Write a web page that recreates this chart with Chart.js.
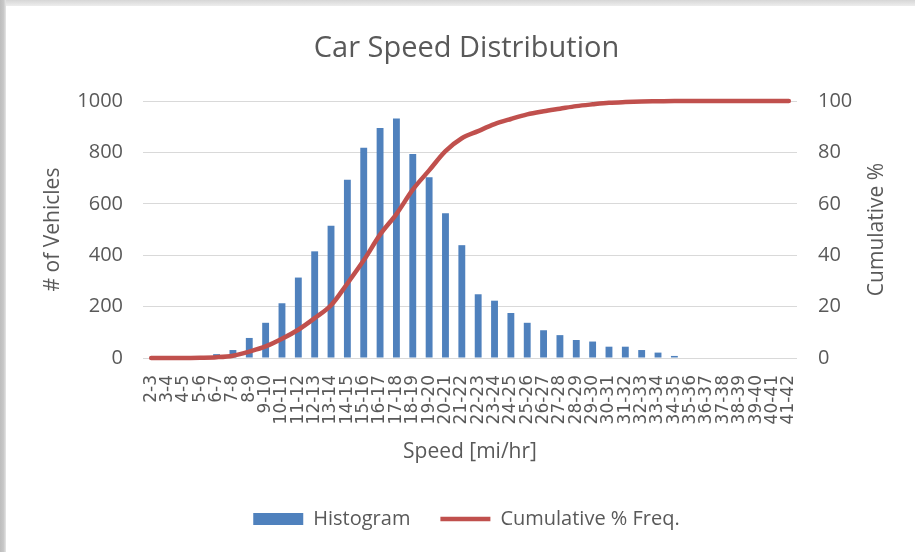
<!DOCTYPE html>
<html>
<head>
<meta charset="utf-8">
<script src="https://cdn.jsdelivr.net/npm/chart.js@4/dist/chart.umd.min.js"></script>
<style>
  body { margin: 0; background: #fff; }
  #wrap { position: absolute; left: 0; top: 0; width: 915px; height: 552px; }
  #edge-top { position: absolute; left: 0; top: 0; width: 915px; height: 6px; background: linear-gradient(#d6d6d6, #ededed); }
  #edge-left { position: absolute; left: 0; top: 0; width: 6px; height: 552px; background: linear-gradient(to right, #bdbdbd, #c8c8c8 60%, #e6e6e6); }
  canvas { position: absolute; left: 0; top: 0; }
</style>
</head>
<body>
<div id="wrap">
  <div id="edge-top"></div>
  <div id="edge-left"></div>
  <canvas id="chart-speed" width="915" height="552"></canvas>
</div>
<script>
var speed_bins = ['2-3','3-4','4-5','5-6','6-7','7-8','8-9','9-10','10-11','11-12',
  '12-13','13-14','14-15','15-16','16-17','17-18','18-19','19-20','20-21','21-22',
  '22-23','23-24','24-25','25-26','26-27','27-28','28-29','29-30','30-31','31-32',
  '32-33','33-34','34-35','35-36','36-37','37-38','38-39','39-40','40-41','41-42'];

// number of vehicles in each bin
var vehicles = [0, 0, 0, 2, 15, 31, 78, 137, 213, 313,
  415, 515, 694, 818, 895, 932, 794, 703, 563, 439,
  248, 223, 175, 137, 108, 89, 70, 64, 44, 44,
  31, 21, 8, 0, 0, 0, 0, 0, 0, 0];

// cumulative % frequency
var cumulative = [0, 0, 0, 0.1, 0.3, 0.9, 2.5, 4.5, 7.5, 11,
  15.5, 20.5, 29, 38, 48, 56, 65.5, 73, 80.5, 85.5,
  88.3, 91, 93, 94.8, 96, 97, 98, 98.7, 99.3, 99.6,
  99.8, 99.9, 100, 100, 100, 100, 100, 100, 100, 100];

var left_ticks = [0, 200, 400, 600, 800, 1000];
var right_ticks = [0, 20, 40, 60, 80, 100];
var right_title = 'Cumulative %';

var grey_text = '#595959';
var tick_font = { family: 'Open Sans', size: 20 };
var axis_title_font = { family: 'Open Sans', size: 21 };

// right axis title reads bottom to top like the left one
var rightTitlePlugin = {
  id: 'rightTitle',
  afterDraw: function (chart) {
    var c = chart.ctx;
    var area = chart.chartArea;
    c.save();
    c.translate(877, (area.top + area.bottom) / 2);
    c.rotate(-Math.PI / 2);
    c.textAlign = 'center';
    c.textBaseline = 'middle';
    c.fillStyle = grey_text;
    c.font = axis_title_font.size + 'px "' + axis_title_font.family + '"';
    c.fillText(right_title, 0, 0);
    c.restore();
  }
};

var ctx = document.getElementById('chart-speed').getContext('2d');
new Chart(ctx, {
  type: 'bar',
  data: {
    labels: speed_bins,
    datasets: [{
      type: 'bar',
      label: 'Histogram',
      data: vehicles,
      yAxisID: 'y',
      backgroundColor: '#4f81bd',
      borderWidth: 0,
      barPercentage: 0.42,
      categoryPercentage: 1,
      pointStyle: 'rect',
      order: 1
    }, {
      type: 'line',
      label: 'Cumulative % Freq.',
      data: cumulative,
      yAxisID: 'y1',
      borderColor: '#c0504d',
      backgroundColor: '#c0504d',
      borderWidth: 4.5,
      borderCapStyle: 'round',
      pointRadius: 0,
      pointStyle: 'line',
      cubicInterpolationMode: 'monotone',
      fill: false,
      clip: false,
      order: 0
    }]
  },
  plugins: [rightTitlePlugin],
  options: {
    responsive: false,
    animation: false,
    layout: { padding: { left: 18, right: 0, top: 0, bottom: 13 } },
    plugins: {
      tooltip: { enabled: false },
      title: {
        display: true,
        text: 'Car Speed Distribution',
        color: grey_text,
        font: { family: 'Open Sans', size: 29, weight: 'normal' },
        padding: { top: 31.6, bottom: 34.6 }
      },
      legend: {
        display: true,
        position: 'bottom',
        reverse: true,
        labels: {
          usePointStyle: true,
          pointStyleWidth: 50,
          boxHeight: 12,
          padding: 30,
          color: grey_text,
          font: { family: 'Open Sans', size: 20 }
        }
      }
    },
    scales: {
      x: {
        grid: { display: false, drawTicks: false },
        border: { display: false },
        ticks: {
          autoSkip: false,
          maxRotation: 90,
          minRotation: 90,
          padding: 17,
          color: grey_text,
          font: { family: 'DejaVu Sans', size: 17 }
        },
        title: {
          display: true,
          text: 'Speed [mi/hr]',
          color: grey_text,
          font: axis_title_font,
          padding: { top: 0, bottom: 14.4 }
        },
        afterFit: function (scale) { scale.height = 121; }
      },
      y: {
        position: 'left',
        min: 0,
        max: 1000,
        grid: { color: '#d9d9d9', lineWidth: 1, drawTicks: false },
        border: { display: false },
        afterBuildTicks: function (scale) {
          scale.ticks = left_ticks.map(function (v) { return { value: v }; });
        },
        ticks: {
          padding: 20,
          color: grey_text,
          font: tick_font,
          callback: function (v) { return String(v); }
        },
        title: {
          display: true,
          text: '# of Vehicles',
          color: grey_text,
          font: axis_title_font,
          padding: { top: 22.4, bottom: 0 }
        },
        afterFit: function (scale) { scale.width = 125; }
      },
      y1: {
        position: 'right',
        min: 0,
        max: 100,
        grid: { display: false, drawTicks: false },
        border: { display: false },
        afterBuildTicks: function (scale) {
          scale.ticks = right_ticks.map(function (v) { return { value: v }; });
        },
        ticks: {
          padding: 21,
          color: grey_text,
          font: tick_font,
          callback: function (v) { return String(v); }
        },
        afterFit: function (scale) { scale.width = 118; }
      }
    }
  }
});
</script>
</body>
</html>
